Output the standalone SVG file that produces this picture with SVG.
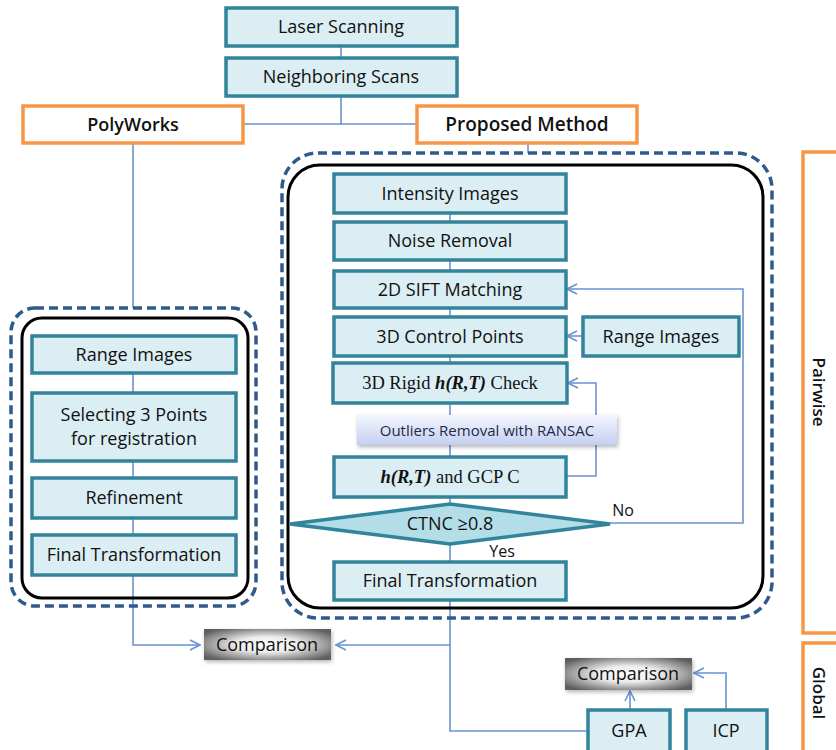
<svg xmlns="http://www.w3.org/2000/svg" width="836" height="750" viewBox="0 0 836 750">
<defs>
<style>
.node{fill:#dbeef3;stroke:#31849b;stroke-width:3.5}
.org{fill:#fff;stroke:#f79646;stroke-width:3.5}
.dash{fill:none;stroke:#2f5a8c;stroke-width:3.5;stroke-dasharray:9 5}
.blk{fill:none;stroke:#000;stroke-width:3}
.c{fill:none;stroke:#6b93cf;stroke-width:1.6}
.t{font-family:"Open Sans","Noto Sans",sans-serif;font-size:18px;fill:#111;text-anchor:middle}
.b{font-weight:600}
.s{font-family:"Liberation Serif",serif;font-size:18.5px;fill:#111;text-anchor:middle}
</style>
<marker id="ah" viewBox="0 0 12 12" refX="11" refY="6" markerWidth="12" markerHeight="12" markerUnits="userSpaceOnUse" orient="auto">
<polyline points="1,1 11,6 1,11" fill="none" stroke="#6b93cf" stroke-width="1.6"/>
</marker>
<radialGradient id="gray" cx="50%" cy="50%" r="62%">
<stop offset="0" stop-color="#ffffff"/>
<stop offset="0.4" stop-color="#ececec"/>
<stop offset="1" stop-color="#5f5f5f"/>
</radialGradient>
<linearGradient id="lav" x1="0" y1="0" x2="0" y2="1">
<stop offset="0" stop-color="#f4f7fd"/>
<stop offset="1" stop-color="#c3cff2"/>
</linearGradient>
<filter id="sh" x="-10%" y="-20%" width="130%" height="160%">
<feGaussianBlur in="SourceAlpha" stdDeviation="2"/>
<feOffset dx="1" dy="2"/>
<feComponentTransfer><feFuncA type="linear" slope="0.3"/></feComponentTransfer>
<feMerge><feMergeNode/><feMergeNode in="SourceGraphic"/></feMerge>
</filter>
</defs>

<g id="connectors">
<line class="c" x1="341" y1="46" x2="341" y2="58"/>
<line class="c" x1="341" y1="96" x2="341" y2="124"/>
<line class="c" x1="243" y1="124" x2="417" y2="124"/>
<line class="c" x1="133" y1="143" x2="133" y2="308"/>
<line class="c" x1="528" y1="143" x2="528" y2="153"/>
<line class="c" x1="133" y1="373" x2="133" y2="393"/>
<line class="c" x1="133" y1="461" x2="133" y2="478"/>
<line class="c" x1="133" y1="518" x2="133" y2="535"/>
<polyline class="c" points="133,575 133,645 200,645" marker-end="url(#ah)"/>
<line class="c" x1="450" y1="213" x2="450" y2="222"/>
<line class="c" x1="450" y1="260" x2="450" y2="271"/>
<line class="c" x1="450" y1="308" x2="450" y2="317"/>
<line class="c" x1="450" y1="356" x2="450" y2="363"/>
<line class="c" x1="450" y1="403" x2="450" y2="457"/>
<line class="c" x1="450" y1="497" x2="450" y2="504"/>
<line class="c" x1="450" y1="544" x2="450" y2="562"/>
<line class="c" x1="583" y1="336" x2="567" y2="336" marker-end="url(#ah)"/>
<polyline class="c" points="566,476 596,476 596,383 568,383" marker-end="url(#ah)"/>
<polyline class="c" points="610,523 743,523 743,289 567,289" marker-end="url(#ah)"/>
<polyline class="c" points="450,600 450,731 588,731"/>
<line class="c" x1="450" y1="645" x2="336" y2="645" marker-end="url(#ah)"/>
<line class="c" x1="630" y1="710" x2="630" y2="691" marker-end="url(#ah)"/>
<polyline class="c" points="726,710 726,673 694,673" marker-end="url(#ah)"/>
</g>

<g id="pairwise-group">
<rect class="dash" x="11" y="308" width="245" height="298" rx="24"/>
<rect class="blk" x="22" y="318" width="226" height="280" rx="20"/>
<rect class="dash" x="282" y="153" width="490" height="465" rx="36"/>
<rect class="blk" x="288" y="165" width="475" height="443" rx="32"/>
</g>

<g id="laser-scanning"><rect class="node" x="226" y="8" width="231" height="38"/><text class="t" x="341" y="33">Laser Scanning</text></g>
<g id="neighboring-scans"><rect class="node" x="226" y="58" width="231" height="38"/><text class="t" x="341" y="83">Neighboring Scans</text></g>
<g id="polyworks"><rect class="org" x="23" y="106" width="220" height="37"/><text class="t b" x="133" y="131">PolyWorks</text></g>
<g id="proposed-method"><rect class="org" x="417" y="106" width="220" height="37"/><text class="t b" x="527" y="131" style="font-size:19px">Proposed Method</text></g>

<g id="range-images-left"><rect class="node" x="32" y="336" width="204" height="37"/><text class="t" x="134" y="361">Range Images</text></g>
<g id="selecting-points"><rect class="node" x="32" y="393" width="204" height="68"/><text class="t" x="134" y="421">Selecting 3 Points</text><text class="t" x="134" y="445">for registration</text></g>
<g id="refinement"><rect class="node" x="32" y="478" width="204" height="40"/><text class="t" x="134" y="504">Refinement</text></g>
<g id="final-transformation-left"><rect class="node" x="32" y="535" width="204" height="40"/><text class="t" x="134" y="561">Final Transformation</text></g>

<g id="intensity-images"><rect class="node" x="334" y="174" width="232" height="39"/><text class="t" x="450" y="200">Intensity Images</text></g>
<g id="noise-removal"><rect class="node" x="334" y="222" width="232" height="38"/><text class="t" x="450" y="247">Noise Removal</text></g>
<g id="sift-matching"><rect class="node" x="334" y="271" width="232" height="37"/><text class="t" x="450" y="296">2D SIFT Matching</text></g>
<g id="control-points"><rect class="node" x="334" y="317" width="232" height="39"/><text class="t" x="450" y="343">3D Control Points</text></g>
<g id="range-images-right"><rect class="node" x="583" y="317" width="156" height="39"/><text class="t" x="661" y="343">Range Images</text></g>
<g id="rigid-check"><rect class="node" x="333" y="363" width="234" height="40"/><text class="s" x="450" y="389">3D Rigid <tspan font-weight="bold" font-style="italic">h(R,T)</tspan> Check</text></g>
<g id="outliers-removal"><rect x="357" y="415" width="260" height="30" fill="url(#lav)" filter="url(#sh)"/><text class="t" x="487" y="436" style="font-size:15px;fill:#1c2a45">Outliers Removal with RANSAC</text></g>
<g id="gcp"><rect class="node" x="334" y="457" width="232" height="40"/><text class="s" x="450" y="483"><tspan font-weight="bold" font-style="italic">h(R,T)</tspan> and GCP C</text></g>
<g id="ctnc-decision"><polygon points="290,524 450,504 610,524 450,544" fill="#b3dde7" stroke="#31849b" stroke-width="3.5"/><text class="t" x="450" y="530">CTNC ≥0.8</text></g>
<g id="label-no"><text class="t" x="623" y="516" style="font-size:16px">No</text></g>
<g id="label-yes"><text class="t" x="502" y="557" style="font-size:16px">Yes</text></g>
<g id="final-transformation-right"><rect class="node" x="334" y="562" width="232" height="38"/><text class="t" x="450" y="587">Final Transformation</text></g>

<g id="comparison-left"><rect x="204" y="629" width="127" height="31" fill="url(#gray)" filter="url(#sh)"/><text class="t" x="267" y="651">Comparison</text></g>
<g id="comparison-right"><rect x="565" y="658" width="127" height="32" fill="url(#gray)" filter="url(#sh)"/><text class="t" x="628" y="680">Comparison</text></g>
<g id="gpa"><rect class="node" x="588" y="710" width="82" height="45"/><text class="t" x="629" y="737">GPA</text></g>
<g id="icp"><rect class="node" x="686" y="710" width="81" height="45"/><text class="t" x="726" y="737">ICP</text></g>

<g id="pairwise"><rect class="org" x="803" y="152" width="45" height="481"/><text class="t b" transform="translate(813,392) rotate(90)" style="font-size:17px">Pairwise</text></g>
<g id="global"><rect class="org" x="803" y="643" width="45" height="110"/><text class="t b" transform="translate(813,693) rotate(90)" style="font-size:17px">Global</text></g>
</svg>
